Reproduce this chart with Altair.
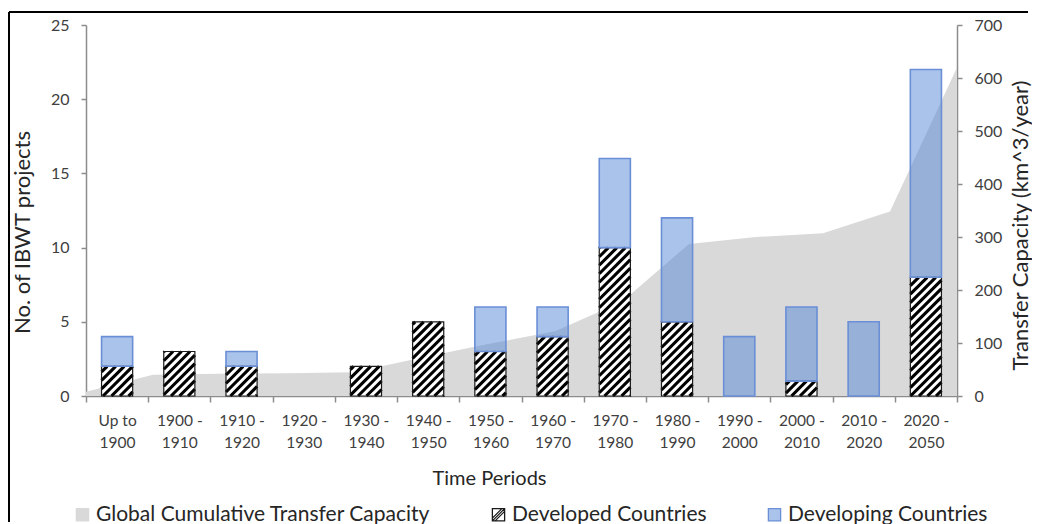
import json
import math
import altair as alt
import pandas as pd

# ---------------- data ----------------
tick_labels = ["Up to|1900", "1900 -|1910", "1910 -|1920", "1920 -|1930", "1930 -|1940",
               "1940 -|1950", "1950 -|1960", "1960 -|1970", "1970 -|1980", "1980 -|1990",
               "1990 -|2000", "2000 -|2010", "2010 -|2020", "2020 -|2050"]
developed = [2, 3, 2, 0, 2, 5, 3, 4, 10, 5, 0, 1, 0, 8]
developing = [2, 0, 1, 0, 0, 0, 3, 2, 6, 7, 4, 5, 5, 14]
capacity = [8, 40, 42, 43, 45, 72, 98, 122, 178, 287, 300, 307, 348, 620]
series_names = ["Global Cumulative Transfer Capacity", "Developed Countries", "Developing Countries"]

# ---------------- layout / style ----------------
W, H = 871, 371
N = len(tick_labels)
HALF = 0.25
FONT = "Lato"
AXIS_GRAY = "#8c8c8c"
BLUE_FILL = "#5587d7"
BLUE_STROKE = "#6a8fd6"
AREA_GRAY = "#d9d9d9"

bars = pd.DataFrame({
    "i": list(range(N)),
    "dev": developed,
    "devg": developing,
})
bars["x0"] = bars["i"] - HALF
bars["x1"] = bars["i"] + HALF
bars["zero"] = 0
bars["top"] = bars["dev"] + bars["devg"]
dev_df = bars[bars["dev"] > 0]
devg_df = bars[bars["devg"] > 0]

area_df = pd.DataFrame({
    "ax": [-0.5 + N * k / (N - 1) for k in range(N)],
    "cap": capacity,
})

# hatch segments (45 degree stripes) computed from the developed values
sx = W / N
sy = H / 25
step = 8.5
hrows = []
for i, d in enumerate(developed):
    if d <= 0:
        continue
    xl = i - HALF
    w = 2 * HALF * sx
    hp = d * sy
    ug0 = (xl + 0.5) * sx
    c = (ug0 % step) - step * math.ceil((w + step) / step)
    while c < hp:
        lo = max(0.0, -c)
        hi = min(w, hp - c)
        if hi > lo:
            hrows.append({"x": xl + lo / sx, "x2": xl + hi / sx,
                          "y": (lo + c) / sy, "y2": (hi + c) / sy})
        c += step
hatch_df = pd.DataFrame(hrows)

# ---------------- scales / axes ----------------
xscale = alt.Scale(domain=[-0.5, N - 0.5], nice=False, zero=False)
yscale = alt.Scale(domain=[0, 25], nice=False)

label_expr = ("datum.value < %d ? split(%s[round(datum.value + 0.5)], '|') : ''"
              % (N - 1, json.dumps(tick_labels)))

x_axis = alt.Axis(
    values=[-0.5 + k for k in range(N + 1)],
    labelExpr=label_expr, labelOffset=W / (2 * N), labelFlush=False, labelOverlap=False,
    tickSize=6, labelPadding=11, domainColor=AXIS_GRAY, tickColor=AXIS_GRAY,
    domainWidth=1.5, tickWidth=1.5, labelFont=FONT, labelFontSize=15.5,
    labelColor="#404040", labelLineHeight=22, grid=False,
    title="Time Periods", titleX=403, titleY=82, titleBaseline="middle",
    titleFont=FONT, titleFontSize=20, titleFontWeight="normal", titleColor="#262626",
)
y_axis = alt.Axis(
    values=[0, 5, 10, 15, 20, 25], tickSize=5, labelPadding=12,
    domainColor=AXIS_GRAY, tickColor=AXIS_GRAY, domainWidth=1.5, tickWidth=1.5,
    labelFont=FONT, labelFontSize=16, labelColor="#404040", grid=False,
    title="No. of IBWT projects", titleX=-64, titleY=207, titleAngle=270,
    titleAlign="center", titleBaseline="middle",
    titleFont=FONT, titleFontSize=22, titleFontWeight="normal", titleColor="#262626",
)
y2_axis = alt.Axis(
    orient="right", values=list(range(0, 701, 100)), tickSize=5, labelPadding=12,
    domainColor=AXIS_GRAY, tickColor=AXIS_GRAY, domainWidth=1.5, tickWidth=1.5,
    labelFont=FONT, labelFontSize=16, labelColor="#404040", grid=False,
    title="Transfer Capacity (km^3/year)", titleX=63, titleY=200, titleAngle=270,
    titleAlign="center", titleBaseline="middle",
    titleFont=FONT, titleFontSize=22, titleFontWeight="normal", titleColor="#262626",
)

X = lambda f: alt.X(f, type="quantitative", scale=xscale, axis=x_axis)
Y = lambda f: alt.Y(f, type="quantitative", scale=yscale, axis=y_axis)

# ---------------- layers ----------------
area = alt.Chart(area_df).mark_area(color=AREA_GRAY, opacity=1).encode(
    x=X("ax"),
    y=alt.Y("cap:Q", scale=alt.Scale(domain=[0, 700], nice=False), axis=y2_axis),
)

dev_fill = alt.Chart(dev_df).mark_rect(fill="white").encode(
    x=X("x0"), x2="x1", y=Y("zero"), y2="dev"
)
hatch = alt.Chart(hatch_df).mark_rule(color="black", strokeWidth=3.1, strokeCap="butt").encode(
    x=X("x"), x2="x2", y=Y("y"), y2="y2"
)
dev_outline = alt.Chart(dev_df).mark_rect(fill="transparent", stroke="#1a1a1a", strokeWidth=1.2).encode(
    x=X("x0"), x2="x1", y=Y("zero"), y2="dev"
)
devg_bar = alt.Chart(devg_df).mark_rect(
    fill=BLUE_FILL, fillOpacity=0.5, stroke=BLUE_STROKE, strokeWidth=1.6
).encode(
    x=X("x0"), x2="x1", y=Y("dev"), y2="top"
)

legend = alt.Legend(
    orient="none", legendX=-14, legendY=479, direction="horizontal", title=None,
    padding=0, symbolSize=150, symbolStrokeWidth=1.3, symbolOpacity=1, labelFont=FONT,
    labelFontSize=21, labelColor="#262626", labelOffset=3, columnPadding=57,
    labelLimit=500,
)
hatch_symbol = "M-1,-1H1V1H-1Z M-1,1L1,-1 M-1,0.55L0.55,-1 M-0.55,1L1,-0.55"
leg_df = pd.DataFrame({"series": series_names})
legend_layer = alt.Chart(leg_df).mark_point(filled=True, opacity=0).encode(
    x=alt.value(0), y=alt.value(0),
    fill=alt.Fill("series:N", scale=alt.Scale(domain=series_names,
                  range=[AREA_GRAY, "white", "#aac3eb"]), legend=legend),
    stroke=alt.Stroke("series:N", scale=alt.Scale(domain=series_names,
                  range=[AREA_GRAY, "#1a1a1a", BLUE_STROKE]), legend=legend),
    shape=alt.Shape("series:N", scale=alt.Scale(domain=series_names,
                  range=["square", hatch_symbol, "square"]), legend=legend),
)

one = pd.DataFrame({"k": [0]})
frame_top = alt.Chart(one).mark_rule(color="black", strokeWidth=2).encode(
    x=alt.value(-77), x2=alt.value(W + 71), y=alt.value(-13)
)
frame_left = alt.Chart(one).mark_rule(color="black", strokeWidth=2).encode(
    x=alt.value(-77), y=alt.value(-13), y2=alt.value(H + 126)
)

inner = alt.layer(dev_fill, hatch, dev_outline, devg_bar, legend_layer, frame_top, frame_left)

chart = alt.layer(area, inner).resolve_scale(y="independent").properties(
    width=W, height=H,
    autosize=alt.AutoSizeParams(type="none"),
    padding={"left": 78, "top": 17, "right": 75, "bottom": 128},
).configure_view(stroke="transparent")

chart.save("out.html", embed_options={"renderer": "svg", "actions": False})
